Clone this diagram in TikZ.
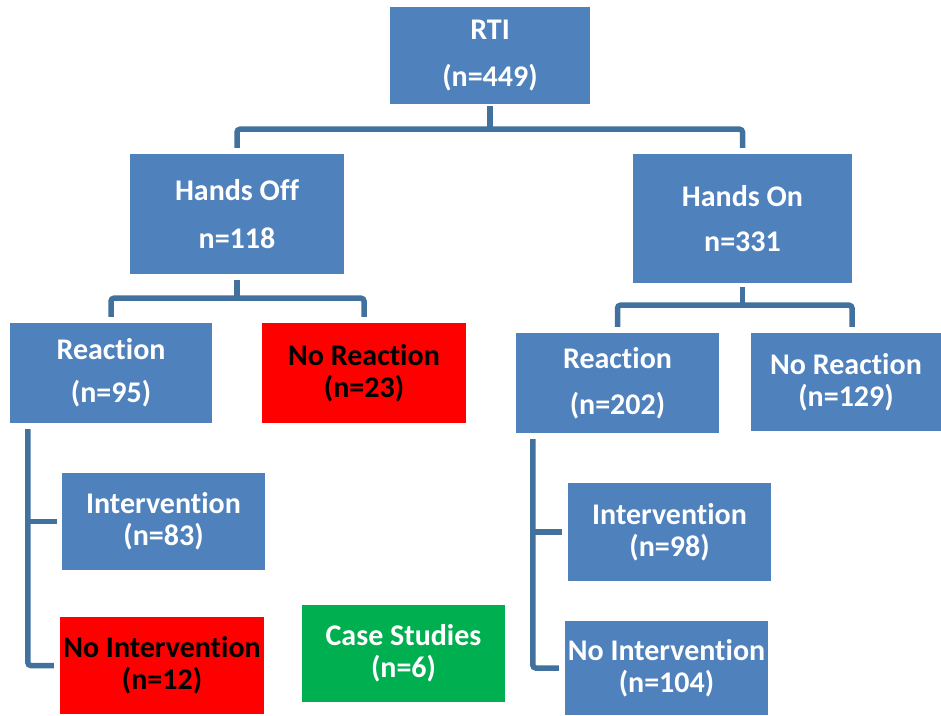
\documentclass[tikz,border=0pt]{standalone}
\usepackage{fontspec}
\setmainfont{Carlito}[Ligatures=NoCommon]
\definecolor{boxblue}{HTML}{4F81BD}
\definecolor{linkblue}{HTML}{41719C}
\definecolor{boxred}{HTML}{FF0000}
\definecolor{boxgreen}{HTML}{00B050}
\tikzset{
  box/.style={rectangle, inner sep=0pt, align=center, text=white,
    fill=boxblue, font=\fontsize{30}{32}\selectfont\bfseries},
  redbox/.style={box, fill=boxred, text=black},
  greenbox/.style={box, fill=boxgreen},
  link/.style={draw=linkblue, line width=5.5pt, rounded corners=3pt},
  gap/.style={shorten >=6pt, shorten <=6pt}
}
\begin{document}
\begin{tikzpicture}[x=1pt,y=-1pt]
       \useasboundingbox (0,0) rectangle (941,715);
       % top level
       \node[box, minimum width=200pt, minimum height=97pt] (rti) at (490,55.5) {RTI\\[15pt](n=449)};
       \node[box, minimum width=214pt, minimum height=120pt] (hoff) at (237,214) {Hands Off\\[16pt]n=118};
       \node[box, minimum width=219pt, minimum height=129pt] (hon) at (742.5,218.5) {Hands On\\[13pt]n=331};
       % reactions
       \node[box, minimum width=202pt, minimum height=100pt] (reactL) at (111,373) {Reaction\\[11pt](n=95)};
       \node[redbox, minimum width=204pt, minimum height=100pt] (noreactL) at (364,373) {No Reaction\\(n=23)};
       \node[box, minimum width=203pt, minimum height=100pt] (reactR) at (617.5,383) {Reaction\\[14pt](n=202)};
       \node[box, minimum width=190pt, minimum height=98pt] (noreactR) at (846,382) {No Reaction\\(n=129)};
       % interventions
       \node[box, minimum width=203pt, minimum height=97pt] (intL) at (163.5,521.5) {Intervention\\(n=83)};
       \node[redbox, minimum width=204pt, minimum height=97pt] (nointL) at (162,665.5) {No Intervention\\(n=12)};
       \node[greenbox, minimum width=203pt, minimum height=97pt] (cases) at (403.5,653.5) {Case Studies\\(n=6)};
       \node[box, minimum width=203pt, minimum height=98pt] (intR) at (669.5,532) {Intervention\\(n=98)};
       \node[box, minimum width=203pt, minimum height=94pt] (nointR) at (666.5,668) {No Intervention\\(n=104)};
       % junctions
       \path (rti.south) ++(0,25) coordinate (rtiJ);
       \path (hoff.south) ++(0,24) coordinate (hoffJ);
       \path (hon.south) ++(0,22) coordinate (honJ);
       \coordinate (rLx) at ([xshift=18pt]reactL.south west);
       \coordinate (rRx) at ([xshift=17pt]reactR.south west);
       % connectors
       \draw[link, shorten <=2pt] (rti.south) -- (rtiJ);
       \draw[link, gap] (hoff.north) |- (rtiJ) -| (hon.north);
       \draw[link, shorten <=6pt] (hoff.south) -- (hoffJ);
       \draw[link, gap] (reactL.north) |- (hoffJ) -| (noreactL.north);
       \draw[link, shorten <=4pt] (hon.south) -- (honJ);
       \draw[link, gap] (reactR.north) |- (honJ) -| ([xshift=6pt]noreactR.north);
       \draw[link, gap] (rLx) |- (nointL.west);
       \draw[link, shorten >=5pt] (rLx |- intL.west) -- (intL.west);
       \draw[link, gap] (rRx) |- (nointR.west);
       \draw[link, shorten >=6pt] (rRx |- intR.west) -- (intR.west);
\end{tikzpicture}
\end{document}
